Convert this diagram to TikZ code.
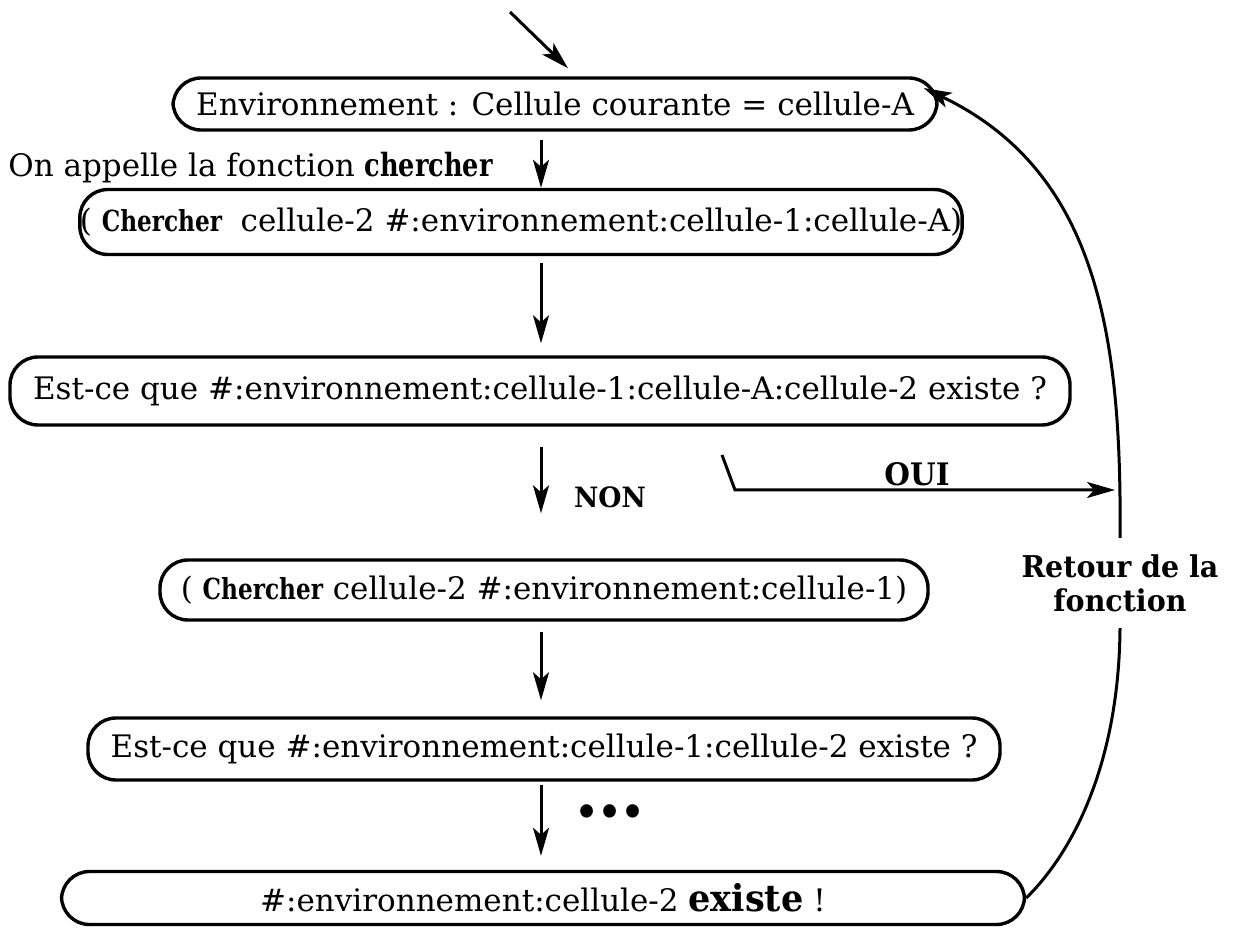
\documentclass[tikz,border=0pt]{standalone}
\usepackage{fontspec}
\setmainfont{DejaVu Serif}
\newfontfamily\heavy{DejaVu Serif}[FakeStretch=0.95]
\newfontfamily\heavynarrow{DejaVu Serif}[FakeStretch=0.8]
\usetikzlibrary{arrows.meta,calc}
\newcommand{\hb}[2]{{\heavy\bfseries\fontsize{#1}{#1}\selectfont #2}}
\newcommand{\hn}[2]{{\heavynarrow\bfseries\fontsize{#1}{#1}\selectfont #2}}
\tikzset{
  box/.style={draw, line width=1.7pt, rounded corners=14pt, inner sep=0pt,
    align=center, font=\fontsize{15.5}{18}\selectfont},
  arr/.style={line width=1.5pt, -{Stealth[length=14pt,width=8pt,inset=3.5pt]}},
  curveline/.style={line width=1.5pt},
  lbl/.style={inner sep=0pt, font=\fontsize{15.5}{18}\selectfont},
  blbl/.style={inner sep=0pt, font=\heavy\bfseries\fontsize{15.5}{17}\selectfont}
}
\begin{document}
\begin{tikzpicture}[x=0.5pt,y=-0.5pt]
\useasboundingbox (0,0) rectangle (1245,929);

% boxes of the call trace
\node[box, minimum width=382pt, minimum height=26pt] (box1) at (555,104)
  {Environnement : Cellule courante = cellule-A};
\node[box, minimum width=436.5pt, minimum height=32.5pt] (box2) at (521,222)
  {( \hn{14.5}{Chercher}\hspace{0.6em}cellule-2 \#:environnement:cellule-1:cellule-A)};
\node[box, minimum width=530pt, minimum height=34pt] (box3) at (540,391)
  {Est-ce que \#:environnement:cellule-1:cellule-A:cellule-2 existe ?};
\node[box, minimum width=384pt, minimum height=30pt] (box4) at (544,590)
  {( \hn{14.5}{Chercher} cellule-2 \#:environnement:cellule-1)};
\node[box, minimum width=456pt, minimum height=31pt] (box5) at (544,749)
  {Est-ce que \#:environnement:cellule-1:cellule-2 existe ?};
\node[box, minimum width=481.5pt, minimum height=26.5pt] (box6) at (543,898)
  {\#:environnement:cellule-2 \hb{18.5}{existe} !};

% labels
\node[lbl, anchor=west] (call) at (8,168) {On appelle la fonction \hn{16}{chercher}};
\node[blbl, font=\heavy\bfseries\fontsize{14}{16}\selectfont] (non) at (610,497) {NON};
\node[blbl] (oui) at (917,474) {OUI};
\node[blbl, font=\heavy\bfseries\fontsize{19}{20}\selectfont] (dots) at (610,815) {•••};
\node[blbl, align=center, inner sep=8pt, font=\heavy\bfseries\fontsize{15}{17}\selectfont]
  (retour) at (1120,583) {Retour de la\\fonction};

% vertical axis of the trace
\coordinate (ax) at (541,0);
\coordinate (in) at (510,12);

% entry arrow
\draw[arr] (in) -- ($(box1.north)+(13,-8)$);

% main downward arrows
\draw[arr, shorten <=4pt] (box1.south -| ax) -- (box2.north -| ax);
\draw[arr, shorten <=3.5pt, shorten >=6pt] (box2.south -| ax) -- (box3.north -| ax);
\draw[arr, shorten <=10pt, shorten >=22.5pt] (box3.south -| ax) -- (box4.north -| ax);
\draw[arr, shorten <=5pt, shorten >=8pt] (box4.south -| ax) -- (box5.north -| ax);
\draw[arr, shorten <=1.5pt, shorten >=7pt] (box5.south -| ax) -- (box6.north -| ax);

% OUI branch
\coordinate (o1) at (722,455);
\coordinate (o2) at (735,490);
\coordinate (o3) at (1115,490);
\draw[arr] (o1) -- (o2) -- (o3);

% return of the function
\draw[curveline] (box6.east) .. controls (1075,850) and (1119,760) .. (retour.south);
\draw[arr] (retour.north) .. controls (1122,330) and (1095,170) .. ($(box1.east)+(-15,-16)$);
\end{tikzpicture}
\end{document}
